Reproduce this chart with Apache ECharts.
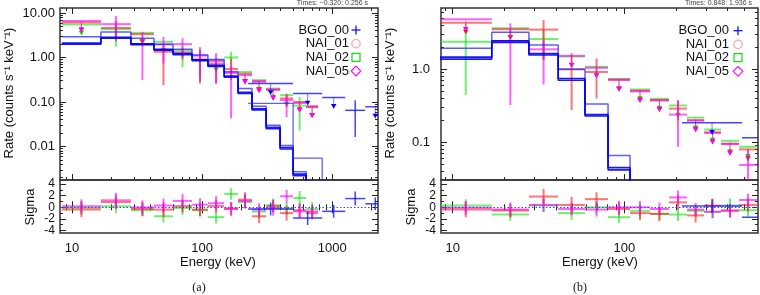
<!DOCTYPE html>
<html><head><meta charset="utf-8">
<script src="https://cdn.jsdelivr.net/npm/echarts@6/dist/echarts.min.js"></script>
<style>html,body{margin:0;padding:0;background:#fff}#c{width:760px;height:295px}</style>
</head><body><div id="c"></div>
<script>
// ================= PANEL (a) DATA =================
const binsA = [8.38, 16.7, 28.4, 42.7, 59.8, 83.8, 111, 148, 189, 242, 311, 398, 501, 631, 780];
// rate, lower (arrow tip for upper limits), upper (null => upper limit)
const n01A_rate = [6.1, 4.6, 3.34, 1.34, 1.3, 0.9, 0.72, 0.55, 0.43, 0.29, 0.19, 0.12, 0.1, 0.08];
const n01A_low  = [3.7, 2.3, 2.0, 0.24, 0.9, 0.26, 0.26, 0.31, 0.26, 0.17, 0.11, 0.078, 0.06, 0.045];
const n01A_high = [null, 6.5, null, 2.06, 1.6, 1.46, 0.97, 0.95, null, null, null, 0.155, null, null];
const n02A_rate = [5.5, 4.3, 3.57, 2.25, 1.45, 0.87, 0.87, 1.0, 0.47, 0.31, 0.2, 0.142, 0.083, 0.076];
const n02A_low  = [3.17, 1.75, 2.06, 1.27, 0.6, 0.28, 0.47, 0.67, 0.26, 0.17, 0.115, 0.08, 0.023, 0.045];
const n02A_high = [null, 5.8, null, null, 1.75, 1.34, null, 1.35, null, null, null, null, 0.13, null];
const n05A_rate = [6.6, 5.6, 2.0, 1.96, 1.99, 1.1, 0.82, 0.45, 0.4, 0.29, 0.19, 0.11, 0.095, 0.078];
const n05A_low  = [3.8, 2.7, 0.31, 0.73, 1.0, 0.33, 0.26, 0.043, 0.25, 0.16, 0.11, 0.046, 0.058, 0.044];
const n05A_high = [null, 8.5, 3.76, 2.9, 2.7, 1.7, 1.25, 0.65, null, null, null, 0.142, null, null];
const bgoBinsA  = [226, 501, 838, 1259, 1795, 2560];
const bgoA_rate = [0.26, 0.155, 0.126, 0.065, 0.078];
const bgoA_low  = [0.145, 0.085, 0.071, 0.0164, 0.043];
const bgoA_high = [null, null, null, 0.11, null];
// models (step lines on binsA / bgoBinsA)
const modelA_thin   = [2.93, 3.74, 2.7, 1.98, 1.53, 1.14, 0.9, 0.48, 0.2, 0.08, 0.03, 0.0105, 0.0027, 0.0006];
const modelA_thick1 = [2.1, 2.85, 2.02, 1.52, 1.22, 0.89, 0.67, 0.38, 0.165, 0.07, 0.027, 0.0095, 0.0024, 0.0005];
const modelA_thick2 = [1.98, 2.72, 1.94, 1.46, 1.16, 0.85, 0.63, 0.36, 0.155, 0.066, 0.025, 0.0088, 0.0022, 0.0005];
const modelA_bgo    = [0.093, 0.0055, 0.0003];
// residuals (sigma)
const sigA_n01 = [-0.4, 0.9, -0.3, -0.4, 0.2, -0.4, 0.2, -0.3, 1.3, -1.55, 0.2, -1.0, -0.5, -1.0];
const sigA_n02 = [-0.1, 0.17, -0.5, -1.55, -0.1, -0.5, -1.7, 2.3, 0.9, -0.75, 0.35, -0.2, 1.6, -0.3];
const sigA_n05 = [0.17, 1.2, 0.0, 0.3, 1.1, 0.45, 0.7, -0.2, 1.1, -0.4, -0.15, 1.9, -0.7, -0.7];
const sigA_bgo = [-0.3, -1.85, -0.7, 1.5, 0.6];
const errA_n01 = [1.3, 1.2, 1.2, 1.3, 1.1, 1.2, 1.1, 1.2, 1.3, 1.2, 1.1, 1.3, 1.2, 1.1];
const errA_n02 = [1.2, 1.2, 1.1, 1.1, 1.2, 1.0, 1.1, 1.0, 1.2, 1.1, 1.2, 1.1, 1.2, 1.2];
const errA_n05 = [1.2, 1.3, 1.2, 1.2, 1.2, 1.1, 1.2, 1.1, 1.2, 1.1, 1.3, 1.1, 1.2, 1.1];
const errA_bgo = [1.1, 1.2, 1.1, 1.2, 1.1];

// ================= PANEL (b) DATA =================
const binsB = [8.4, 16.9, 27.8, 41.2, 59.0, 80.4, 108, 141, 182, 232, 292, 366, 466, 593, 755];
const n01B_rate = [4.35, 3.55, 3.5, 1.0, 0.92, 0.72, 0.51, 0.38, 0.29, 0.2, 0.137, 0.096, 0.08, 0.055];
const n01B_low  = [3.05, 2.55, 1.34, 0.277, 0.4, 0.5, 0.355, 0.265, 0.2, 0.14, 0.095, 0.067, 0.056, 0.038];
const n01B_high = [null, null, 4.73, 1.66, 1.41, null, null, null, 0.37, null, null, null, null, null];
const n02B_rate = [2.39, 3.64, 2.6, 1.5, 1.085, 0.74, 0.53, 0.395, 0.32, 0.218, 0.15, 0.105, 0.087, 0.059];
const n02B_low  = [0.445, 2.57, 1.34, 1.06, 0.78, 0.51, 0.37, 0.275, 0.22, 0.148, 0.1, 0.07, 0.06, 0.04];
const n02B_high = [4.2, null, 3.45, null, null, null, null, null, null, null, null, null, null, null];
const n05B_rate = [4.84, 2.45, 1.88, 1.53, 1.05, 0.72, 0.5, 0.375, 0.24, 0.2, 0.135, 0.095, 0.049];
const n05B_low  = [3.3, 0.325, 0.62, 1.07, 0.76, 0.5, 0.35, 0.26, 0.087, 0.14, 0.094, 0.066, 0.029];
const n05B_high = [null, 4.27, 2.5, null, null, null, null, null, 0.38, null, null, null, 0.079];
const bgoBinsB  = [217, 485, 925];
const bgoB_rate = [0.186, 0.116];
const bgoB_low  = [0.128, 0.08];
const bgoB_high = [null, null];
const modelB_thin   = [1.94, 3.21, 2.15, 1.0, 0.334, 0.066, 0.001];
const modelB_thick1 = [1.47, 2.45, 1.64, 0.75, 0.24, 0.045, 0.001];
const modelB_thick2 = [1.38, 2.33, 1.57, 0.71, 0.23, 0.042, 0.001];
const sigB_n01 = [-0.4, -0.55, 1.85, 0.4, 1.4, -0.3, -1.0, -1.15, 0.85, -1.4, 0.3, -0.6, 0.4, -0.2];
const sigB_n02 = [0.3, -1.25, 0.3, -1.0, 0.0, -1.7, -0.6, -1.1, -1.25, -0.6, -0.8, 0.3, -0.5, 0.05];
const sigB_n05 = [-0.1, -0.4, 0.4, -0.3, -0.4, 0.0, 0.0, -0.3, 1.7, -0.4, -0.75, -0.55, 1.25, 0.3];
const sigB_bgo = [0.2, -1.7];
const errB_n01 = [1.3, 1.2, 1.3, 1.4, 1.2, 1.1, 1.2, 1.2, 1.2, 1.2, 1.2, 1.2, 1.1, 1.2];
const errB_n02 = [1.1, 1.1, 1.1, 1.2, 1.1, 1.0, 1.2, 1.1, 1.1, 1.1, 1.1, 1.2, 1.1, 1.1];
const errB_n05 = [1.2, 1.2, 1.2, 1.1, 1.2, 1.1, 1.1, 1.1, 1.2, 1.1, 1.1, 1.1, 1.1, 1.1];
const errB_bgo = [1.2, 1.1];

// ================= TICKS / LABELS =================
const xMajorA = [10, 100, 1000];
const xMinorA = [9, 20, 30, 40, 50, 60, 70, 80, 90, 200, 300, 400, 500, 600, 700, 800, 900, 2000];
const yMajorA = [0.01, 0.1, 1, 10];
const yMinorA = [0.002,0.003,0.004,0.005,0.006,0.007,0.008,0.009,0.02,0.03,0.04,0.05,0.06,0.07,0.08,0.09,0.2,0.3,0.4,0.5,0.6,0.7,0.8,0.9,2,3,4,5,6,7,8,9];
const xMajorB = [10, 100];
const xMinorB = [9, 20, 30, 40, 50, 60, 70, 80, 90, 200, 300, 400, 500];
const yMajorB = [0.1, 1];
const yMinorB = [0.04,0.05,0.06,0.07,0.08,0.09,0.2,0.3,0.4,0.5,0.6,0.7,0.8,0.9,2,3,4,5,6];
const sMajor = [-4, -2, 0, 2, 4];
const sMinor = [-3, -1, 1, 3];
const sLabels1 = [-4, 0, 4];
const sLabels2 = [-2, 2];
const legendNames = ['BGO_00', 'NAI_01', 'NAI_02', 'NAI_05'];
const timesA = 'Times: \u22120.320: 0.256 s';
const timesB = 'Times: 0.848: 1.936 s';

// ================= BUILD =================
const FONT = 'Liberation Sans, Arial, Helvetica, sans-serif';
const C = {
  red: 'rgba(255,30,30,0.62)', green: 'rgba(20,230,20,0.62)', mag: 'rgba(255,0,255,0.62)', blue: 'rgba(20,20,255,0.8)',
  redT: '#ff1010', greenT: '#10d010', magT: '#ff00ff', blueT: '#0000ff'
};
const xAxes = [], yAxes = [];
function tickAx(base, pos, vals, len, label) {
  return Object.assign({}, base, {
    position: pos, axisLine: {show: false}, splitLine: {show: false},
    axisTick: {show: true, inside: true, length: len, customValues: vals, lineStyle: {color: '#222', width: 1}},
    axisLabel: label || {show: false}
  });
}
function addAxes(list, base, posA, posB, major, minor, label, label2) {
  const idx = list.length;
  list.push(tickAx(base, posA, major, 6, label));
  list.push(tickAx(base, posA, minor, 3, label2));
  list.push(tickAx(base, posB, major, 6));
  list.push(tickAx(base, posB, minor, 3));
  return idx;
}
function lbl(vals, fmt, margin, size, lh) {
  return {show: true, customValues: vals, formatter: fmt, margin: margin, fontSize: size, lineHeight: lh || size,
    showMinLabel: true, showMaxLabel: true, hideOverlap: false, color: '#111', fontFamily: FONT};
}
const grids = [
  {left: 60, top: 8, width: 318, height: 172},
  {left: 60, top: 180, width: 318, height: 53},
  {left: 441, top: 8, width: 317, height: 172},
  {left: 441, top: 180, width: 317, height: 53}
].map(g => Object.assign(g, {show: true, borderColor: '#333', borderWidth: 1.5, backgroundColor: 'transparent', containLabel: false, outerBoundsMode: 'none'}));

const xr = v => String(Math.round(v));
const sf = v => String(v);
// panel a
const xa0 = addAxes(xAxes, {gridIndex: 0, type: 'log', min: 8.1, max: 2250}, 'bottom', 'top', xMajorA, xMinorA);
const ya0 = addAxes(yAxes, {gridIndex: 0, type: 'log', min: 0.00177, max: 12.9}, 'left', 'right', yMajorA, yMinorA, lbl(yMajorA, v => v.toFixed(2), 5, 13));
const xa1 = addAxes(xAxes, {gridIndex: 1, type: 'log', min: 8.1, max: 2250}, 'bottom', 'top', xMajorA, xMinorA, lbl(xMajorA, xr, 9, 13));
const ya1 = addAxes(yAxes, {gridIndex: 1, type: 'value', min: -4.43, max: 4.7}, 'left', 'right', sMajor, sMinor, lbl(sLabels1, sf, 5, 12, 9), lbl(sLabels2, sf, 5, 12, 9));
// panel b
const xb0 = addAxes(xAxes, {gridIndex: 2, type: 'log', min: 8.55, max: 601}, 'bottom', 'top', xMajorB, xMinorB);
const yb0 = addAxes(yAxes, {gridIndex: 2, type: 'log', min: 0.0305, max: 6.92}, 'left', 'right', yMajorB, yMinorB, lbl(yMajorB, v => v.toFixed(1), 11, 13));
const xb1 = addAxes(xAxes, {gridIndex: 3, type: 'log', min: 8.55, max: 601}, 'bottom', 'top', xMajorB, xMinorB, lbl(xMajorB, xr, 9, 13));
const yb1 = addAxes(yAxes, {gridIndex: 3, type: 'value', min: -4.43, max: 4.7}, 'left', 'right', sMajor, sMinor, lbl(sLabels1, sf, 5, 12, 9), lbl(sLabels2, sf, 5, 12, 9));

function errSeries(xi, yi, bins, rate, low, high, color, tri, lw) {
  const data = rate.map((r, i) => {
    const ul = high[i] === null ? 1 : 0;
    return [bins[i], bins[i + 1], r, low[i], ul ? low[i] : high[i], ul];
  });
  return {
    type: 'custom', xAxisIndex: xi, yAxisIndex: yi, clip: true, silent: true, z: 3, data: data,
    encode: {x: [0, 1], y: [2, 3, 4]},
    renderItem: function (params, api) {
      const lo = api.value(0), hi = api.value(1), y = api.value(2), yl = api.value(3), yh = api.value(4), ul = api.value(5);
      const xc = Math.sqrt(lo * hi);
      const a = api.coord([lo, y]), b = api.coord([hi, y]), c = api.coord([xc, y]);
      const d = api.coord([xc, yl]), e = api.coord([xc, yh]);
      const ch = [{type: 'line', shape: {x1: a[0], y1: a[1], x2: b[0], y2: b[1]}, style: {stroke: color, lineWidth: lw}}];
      if (ul) {
        ch.push({type: 'line', shape: {x1: c[0], y1: c[1], x2: d[0], y2: d[1]}, style: {stroke: color, lineWidth: 1, opacity: 0.7}});
        ch.push({type: 'polygon', shape: {points: [[d[0] - 2.8, d[1] - 4.5], [d[0] + 2.8, d[1] - 4.5], [d[0], d[1]]]}, style: {fill: tri}});
      } else {
        ch.push({type: 'line', shape: {x1: e[0], y1: e[1], x2: d[0], y2: d[1]}, style: {stroke: color, lineWidth: lw}});
      }
      return {type: 'group', children: ch};
    }
  };
}
function resSeries(xi, yi, bins, sig, err, color, lw, extra) {
  const hi = sig.map((s, i) => s + err[i]);
  const lo = sig.map((s, i) => s - err[i]);
  const s = errSeries(xi, yi, bins, sig, lo, hi, color, color, lw);
  return Object.assign(s, extra || {});
}
function stepSeries(xi, yi, edges, vals, color, width) {
  const data = edges.slice(0, vals.length + 1).map((e, i) => [e, vals[Math.min(i, vals.length - 1)]]);
  return {type: 'line', xAxisIndex: xi, yAxisIndex: yi, data: data, step: 'end', symbol: 'none', silent: true, z: 4,
    lineStyle: {color: color, width: width}};
}
const zeroLine = {markLine: {silent: true, symbol: 'none', label: {show: false}, data: [{yAxis: 0}],
  lineStyle: {type: [1.5, 2], color: '#3344ff', width: 1.2}}};

const series = [
  // panel a top
  errSeries(xa0, ya0, binsA, n02A_rate, n02A_low, n02A_high, C.green, C.greenT, 2),
  errSeries(xa0, ya0, binsA, n01A_rate, n01A_low, n01A_high, C.red, C.redT, 2),
  errSeries(xa0, ya0, binsA, n05A_rate, n05A_low, n05A_high, C.mag, C.magT, 2),
  errSeries(xa0, ya0, bgoBinsA, bgoA_rate, bgoA_low, bgoA_high, C.blue, C.blueT, 1.5),
  stepSeries(xa0, ya0, binsA, modelA_thin, 'rgba(40,40,255,0.75)', 1.5),
  stepSeries(xa0, ya0, binsA, modelA_thick1, 'rgba(0,0,245,0.9)', 1.6),
  stepSeries(xa0, ya0, binsA, modelA_thick2, 'rgba(0,0,245,0.9)', 1.6),
  stepSeries(xa0, ya0, bgoBinsA, modelA_bgo, 'rgba(40,40,255,0.75)', 1.3),
  // panel a residuals
  resSeries(xa1, ya1, binsA, sigA_n02, errA_n02, C.green, 2),
  resSeries(xa1, ya1, binsA, sigA_n01, errA_n01, C.red, 2),
  resSeries(xa1, ya1, binsA, sigA_n05, errA_n05, C.mag, 2),
  resSeries(xa1, ya1, bgoBinsA, sigA_bgo, errA_bgo, C.blue, 1.5, zeroLine),
  // panel b top
  errSeries(xb0, yb0, binsB, n02B_rate, n02B_low, n02B_high, C.green, C.greenT, 2),
  errSeries(xb0, yb0, binsB, n01B_rate, n01B_low, n01B_high, C.red, C.redT, 2),
  errSeries(xb0, yb0, binsB, n05B_rate, n05B_low, n05B_high, C.mag, C.magT, 2),
  errSeries(xb0, yb0, bgoBinsB, bgoB_rate, bgoB_low, bgoB_high, C.blue, C.blueT, 1.5),
  stepSeries(xb0, yb0, binsB, modelB_thin, 'rgba(40,40,255,0.75)', 1.5),
  stepSeries(xb0, yb0, binsB, modelB_thick1, 'rgba(0,0,245,0.9)', 1.6),
  stepSeries(xb0, yb0, binsB, modelB_thick2, 'rgba(0,0,245,0.9)', 1.6),
  // panel b residuals
  resSeries(xb1, yb1, binsB, sigB_n02, errB_n02, C.green, 2),
  resSeries(xb1, yb1, binsB, sigB_n01, errB_n01, C.red, 2),
  resSeries(xb1, yb1, binsB, sigB_n05, errB_n05, C.mag, 2),
  resSeries(xb1, yb1, bgoBinsB, sigB_bgo, errB_bgo, C.blue, 1.5, zeroLine)
];

function txt(x, y, text, opt) {
  return Object.assign({type: 'text', x: x, y: y, silent: true,
    style: Object.assign({text: text, fill: '#111', font: '13px ' + FONT, align: 'center', verticalAlign: 'middle'}, opt && opt.style)},
    opt && opt.el);
}
function legend(nx, sx, rows) {
  const els = [];
  legendNames.forEach((n, i) => els.push(txt(nx, rows[i], n, {style: {align: 'right'}})));
  els.push({type: 'line', silent: true, shape: {x1: sx - 4.5, y1: rows[0], x2: sx + 4.5, y2: rows[0]}, style: {stroke: '#1010ff', lineWidth: 1.3}});
  els.push({type: 'line', silent: true, shape: {x1: sx, y1: rows[0] - 4.5, x2: sx, y2: rows[0] + 4.5}, style: {stroke: '#1010ff', lineWidth: 1.3}});
  els.push({type: 'circle', silent: true, shape: {cx: sx, cy: rows[1], r: 4.2}, style: {fill: 'none', stroke: '#ffa0a0', lineWidth: 1.2}});
  els.push({type: 'rect', silent: true, shape: {x: sx - 4, y: rows[2] - 4, width: 8, height: 8}, style: {fill: 'none', stroke: '#10dd10', lineWidth: 1.2}});
  els.push({type: 'polygon', silent: true, shape: {points: [[sx, rows[3] - 4.8], [sx + 4.8, rows[3]], [sx, rows[3] + 4.8], [sx - 4.8, rows[3]]]}, style: {fill: 'none', stroke: '#ff10ff', lineWidth: 1.2}});
  return els;
}
const rot = {el: {rotation: Math.PI / 2}};
const graphic = [].concat(
  [
    txt(9, 93, 'Rate (counts s\u207B\u00B9 keV\u207B\u00B9)', rot),
    txt(390, 93, 'Rate (counts s\u207B\u00B9 keV\u207B\u00B9)', rot),
    txt(30, 207, 'Sigma', rot),
    txt(411, 207, 'Sigma', rot),
    txt(218, 262, 'Energy (keV)'),
    txt(600, 262, 'Energy (keV)'),
    txt(199, 288, '(a)', {style: {font: '12px Liberation Serif, DejaVu Serif, serif'}}),
    txt(580, 288, '(b)', {style: {font: '12px Liberation Serif, DejaVu Serif, serif'}}),
    txt(368, 3.5, timesA, {style: {align: 'right', font: '7px ' + FONT, fill: '#444'}}),
    txt(752, 3.5, timesB, {style: {align: 'right', font: '7px ' + FONT, fill: '#444'}})
  ],
  legend(349, 356, [30, 43.7, 57.3, 71]),
  legend(729, 738, [30.7, 44.3, 57.7, 71.3])
);

const chart = echarts.init(document.getElementById('c'), null, {renderer: 'canvas'});
chart.setOption({
  animation: false,
  backgroundColor: '#fff',
  grid: grids,
  xAxis: xAxes,
  yAxis: yAxes,
  series: series,
  graphic: graphic
});
</script></body></html>
